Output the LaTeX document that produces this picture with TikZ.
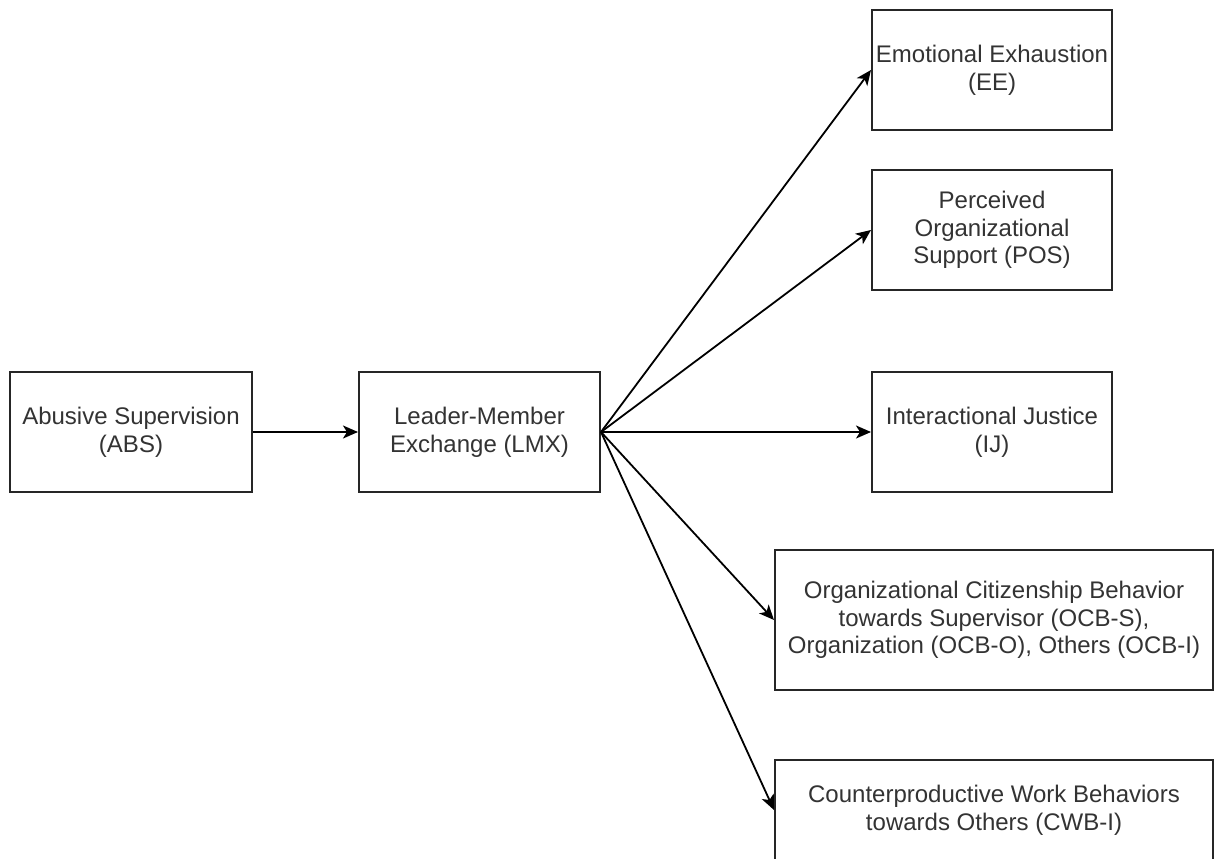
\documentclass[tikz,border=0pt]{standalone}
\usepackage{fontspec}
\setmainfont{Liberation Sans}
\usetikzlibrary{arrows.meta}
\begin{document}
\begin{tikzpicture}[x=1pt,y=-1pt,
  box/.style={draw=black!85,line width=2pt,align=center,inner sep=0pt,
    font=\fontsize{24}{27.6}\selectfont,text=black!80},
  conn/.style={draw=black,line width=1.8pt,
    -{Stealth[length=15pt,width=13pt,inset=4pt]}}]
\useasboundingbox (0,0) rectangle (1215,859);
\clip (0,0) rectangle (1215,859);
\fill[white] (0,0) rectangle (1215,859);
\node[box,minimum width=242pt,minimum height=120pt] (abs) at (131,432) {Abusive Supervision\\(ABS)};
\node[box,minimum width=241pt,minimum height=120pt] (lmx) at (479.5,432) {Leader-Member\\Exchange (LMX)};
\node[box,minimum width=240pt,minimum height=120pt] (ee) at (992,70) {Emotional Exhaustion\\(EE)};
\node[box,minimum width=240pt,minimum height=120pt] (pos) at (992,230) {Perceived\\Organizational\\Support (POS)};
\node[box,minimum width=240pt,minimum height=120pt] (ij) at (992,432) {Interactional Justice\\(IJ)};
\node[box,minimum width=438pt,minimum height=140pt] (ocb) at (994,620) {Organizational Citizenship Behavior\\towards Supervisor (OCB-S),\\Organization (OCB-O), Others (OCB-I)};
\node[box,minimum width=438pt,minimum height=100pt,yshift=0pt] (cwb) at (994,810) {Counterproductive Work Behaviors\\towards Others (CWB-I)};
\draw[conn] (abs.east) -- (lmx.west);
\draw[conn] (lmx.east) -- (ee.west);
\draw[conn] (lmx.east) -- (pos.west);
\draw[conn] (lmx.east) -- (ij.west);
\draw[conn] (lmx.east) -- (ocb.west);
\draw[conn] (lmx.east) -- (cwb.west);
\end{tikzpicture}
\end{document}
